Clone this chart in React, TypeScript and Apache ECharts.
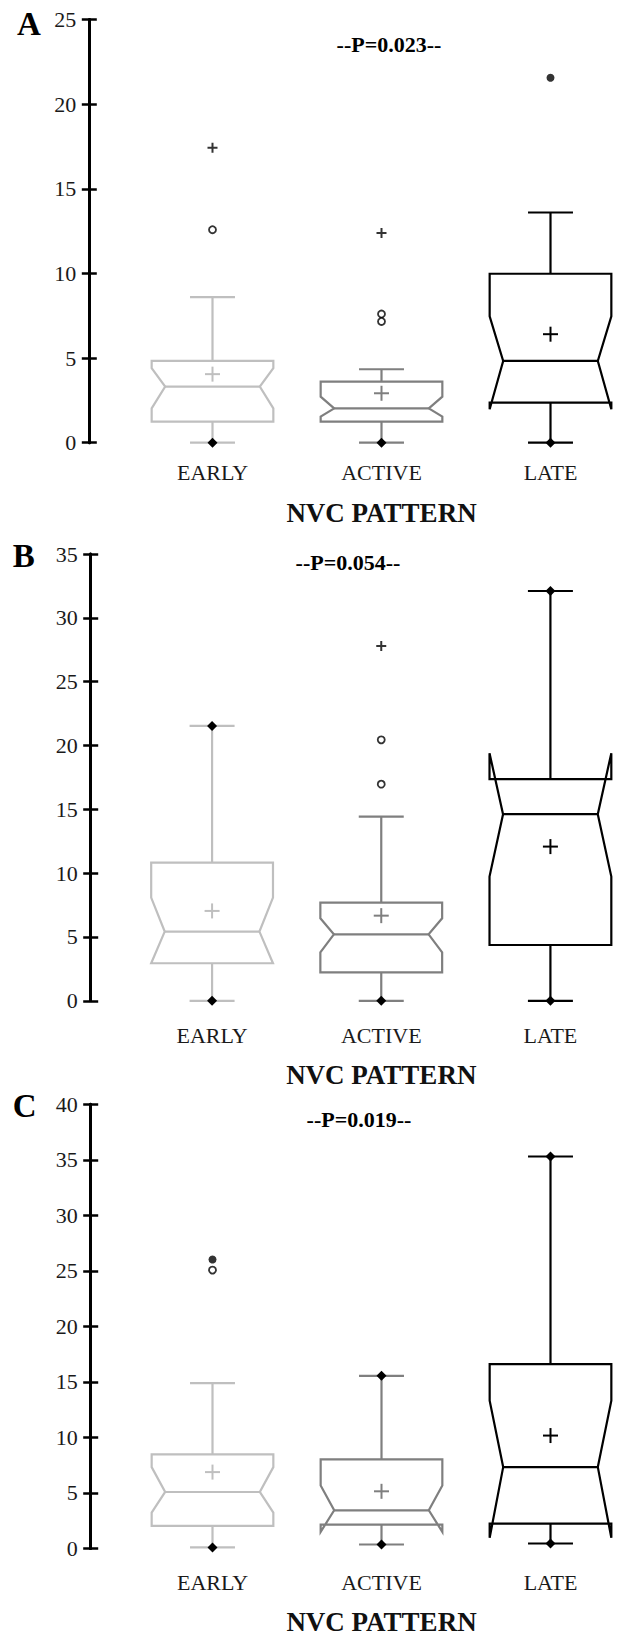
import React, { useEffect, useRef } from 'react';
import * as echarts from 'echarts';

const categories = ['EARLY', 'ACTIVE', 'LATE'];
const panelLetters = ['A', 'B', 'C'];
const pValues = ['--P=0.023--', '--P=0.054--', '--P=0.019--'];
const axisTitle = 'NVC PATTERN';

// Panel A
const aTicks = [0, 5, 10, 15, 20, 25];
const aLow = [0, 0, 0];
const aQ1 = [1.24, 1.24, 2.37];
const aMedian = [3.31, 2.03, 4.83];
const aQ3 = [4.83, 3.61, 9.98];
const aHigh = [8.6, 4.34, 13.6];
const aNotchLow = [2.03, 1.54, 1.98];
const aNotchHigh = [4.4, 2.72, 7.46];
const aMean = [4.05, 2.92, 6.41];
const aLowMarked = [1, 1, 1];
const aHighMarked = [0, 0, 0];
const aPlus = [['EARLY', 17.42], ['ACTIVE', 12.39]];
const aOpen = [['EARLY', 12.58], ['ACTIVE', 7.6], ['ACTIVE', 7.16]];
const aDot = [['LATE', 21.56]];

// Panel B
const bTicks = [0, 5, 10, 15, 20, 25, 30, 35];
const bLow = [0, 0, 0];
const bQ1 = [2.94, 2.23, 4.37];
const bMedian = [5.42, 5.21, 14.62];
const bQ3 = [10.82, 7.69, 17.36];
const bHigh = [21.53, 14.43, 32.1];
const bNotchLow = [2.94, 3.8, 9.73];
const bNotchHigh = [8.08, 6.46, 19.4];
const bMean = [7.04, 6.67, 12.08];
const bLowMarked = [1, 1, 1];
const bHighMarked = [1, 0, 1];
const bPlus = [['ACTIVE', 27.8]];
const bOpen = [['ACTIVE', 20.44], ['ACTIVE', 16.97]];
const bDot: any[] = [];

// Panel C
const cTicks = [0, 5, 10, 15, 20, 25, 30, 35, 40];
const cLow = [0.1, 0.36, 0.45];
const cQ1 = [2.03, 2.15, 2.24];
const cMedian = [5.09, 3.44, 7.33];
const cQ3 = [8.47, 8.02, 16.6];
const cHigh = [14.9, 15.55, 35.3];
const cNotchLow = [3.23, 1.5, 0.96];
const cNotchHigh = [7.33, 5.68, 13.31];
const cMean = [6.88, 5.15, 10.17];
const cLowMarked = [1, 1, 1];
const cHighMarked = [0, 1, 1];
const cPlus: any[] = [];
const cOpen = [['EARLY', 25.07]];
const cDot = [['EARLY', 26.03]];

const panels = [
  { ticks: aTicks, low: aLow, q1: aQ1, med: aMedian, q3: aQ3, high: aHigh, nl: aNotchLow, nh: aNotchHigh, mean: aMean, lm: aLowMarked, hm: aHighMarked, plus: aPlus, open: aOpen, dot: aDot },
  { ticks: bTicks, low: bLow, q1: bQ1, med: bMedian, q3: bQ3, high: bHigh, nl: bNotchLow, nh: bNotchHigh, mean: bMean, lm: bLowMarked, hm: bHighMarked, plus: bPlus, open: bOpen, dot: bDot },
  { ticks: cTicks, low: cLow, q1: cQ1, med: cMedian, q3: cQ3, high: cHigh, nl: cNotchLow, nh: cNotchHigh, mean: cMean, lm: cLowMarked, hm: cHighMarked, plus: cPlus, open: cOpen, dot: cDot },
];

// layout (pixels)
const layouts = [
  { top: 19.5, height: 423.2, left: 128, width: 522, axisX: 89.3, labelGap: 29.3, nameGap: 70, letterX: 17, letterY: 23.5, pX: 389, pY: 44 },
  { top: 554, height: 446.8, left: 127.5, width: 528, axisX: 90.7, labelGap: 34.5, nameGap: 74, letterX: 12.7, letterY: 556, pX: 348, pY: 562 },
  { top: 1104.3, height: 445.7, left: 128, width: 528, axisX: 90.7, labelGap: 34.2, nameGap: 73, letterX: 12.7, letterY: 1106, pX: 359, pY: 1119.5 },
];

const boxColors = ['#bfbfbf', '#7f7f7f', '#000000'];
const SERIF = '"Liberation Serif", "Times New Roman", serif';

const renderBox = (params: any, api: any) => {
  const idx = api.value(0);
  const col = boxColors[idx];
  const band = api.size([1, 0])[0];
  const hw = band * 0.36;
  const cap = band * 0.133;
  const ind = band * 0.08;
  const Y = (v: number) => api.coord([idx, v])[1];
  const cx = api.coord([idx, api.value(3)])[0];
  const yLow = Y(api.value(1));
  const yQ1 = Y(api.value(2));
  const yMed = Y(api.value(3));
  const yQ3 = Y(api.value(4));
  const yHigh = Y(api.value(5));
  const yNL = Y(api.value(6));
  const yNH = Y(api.value(7));
  const yMean = Y(api.value(8));
  const lowMarked = api.value(9);
  const highMarked = api.value(10);
  const L = cx - hw;
  const R = cx + hw;
  const st = { stroke: col, lineWidth: 2.2, fill: null };
  const line = (x1: number, y1: number, x2: number, y2: number, s: any = st) => ({
    type: 'line',
    shape: { x1, y1, x2, y2 },
    style: s,
  });
  const diamond = (y: number) => ({
    type: 'polygon',
    shape: { points: [[cx, y - 5], [cx + 5, y], [cx, y + 5], [cx - 5, y]] },
    style: { fill: '#000', stroke: null },
  });
  const children: any[] = [
    line(cx, yQ3, cx, yHigh),
    line(cx - cap, yHigh, cx + cap, yHigh),
    line(cx, yQ1, cx, yLow),
    line(cx - cap, yLow, cx + cap, yLow),
    {
      type: 'polygon',
      shape: {
        points: [
          [L, yQ3], [L, yNH], [L + ind, yMed], [L, yNL], [L, yQ1],
          [R, yQ1], [R, yNL], [R - ind, yMed], [R, yNH], [R, yQ3],
        ],
      },
      style: { stroke: col, lineWidth: 2.2, fill: null, lineJoin: 'miter' },
    },
    line(L + ind, yMed, R - ind, yMed),
    line(cx - 7.5, yMean, cx + 7.5, yMean, { stroke: col, lineWidth: 2 }),
    line(cx, yMean - 7.5, cx, yMean + 7.5, { stroke: col, lineWidth: 2 }),
  ];
  if (lowMarked) children.push(diamond(yLow));
  if (highMarked) children.push(diamond(yHigh));
  return { type: 'group', children };
};

export default function App() {
  const ref = useRef<HTMLDivElement>(null);
  useEffect(() => {
    if (!ref.current) return;
    const chart = echarts.init(ref.current, null, { renderer: 'svg' });
    const grid: any[] = [];
    const xAxis: any[] = [];
    const yAxis: any[] = [];
    const series: any[] = [];
    const graphic: any[] = [];
    panels.forEach((p, i) => {
      const lay = layouts[i];
      const min = p.ticks[0];
      const max = p.ticks[p.ticks.length - 1];
      const interval = p.ticks[1] - p.ticks[0];
      grid.push({ left: lay.left, top: lay.top, width: lay.width, height: lay.height, containLabel: false });
      xAxis.push({
        type: 'category',
        gridIndex: i,
        data: categories,
        axisLine: { show: false },
        axisTick: { show: false },
        axisLabel: {
          interval: 0,
          margin: lay.labelGap,
          verticalAlign: 'middle',
          fontFamily: SERIF,
          fontSize: 22,
          color: '#1a1a1a',
        },
        name: axisTitle,
        nameLocation: 'middle',
        nameGap: lay.nameGap,
        nameTextStyle: {
          fontFamily: SERIF,
          fontSize: 27,
          fontWeight: 'bold',
          color: '#111',
          verticalAlign: 'middle',
        },
        splitLine: { show: false },
      });
      const off = lay.left - lay.axisX;
      yAxis.push({
        type: 'value',
        gridIndex: i,
        position: 'left',
        offset: off,
        min,
        max,
        interval,
        axisLine: { show: true, lineStyle: { color: '#000', width: 3 } },
        axisTick: { show: true, length: 7.5, lineStyle: { color: '#000', width: 2.5 } },
        axisLabel: { margin: 13, fontFamily: SERIF, fontSize: 22, color: '#1a1a1a' },
        splitLine: { show: false },
      });
      yAxis.push({
        type: 'value',
        gridIndex: i,
        position: 'left',
        offset: off,
        min,
        max,
        interval,
        axisLine: { show: true, lineStyle: { color: '#000', width: 3 } },
        axisTick: { show: true, inside: true, length: 7.5, lineStyle: { color: '#000', width: 2.5 } },
        axisLabel: { show: false },
        splitLine: { show: false },
      });
      const rows = categories.map((_, k) => [
        k, p.low[k], p.q1[k], p.med[k], p.q3[k], p.high[k], p.nl[k], p.nh[k], p.mean[k], p.lm[k], p.hm[k],
      ]);
      series.push({
        type: 'custom',
        xAxisIndex: i,
        yAxisIndex: 2 * i,
        renderItem: renderBox,
        encode: { x: 0, y: [1, 2, 3, 4, 5, 6, 7, 8] },
        data: rows,
        silent: true,
      });
      series.push({
        type: 'scatter',
        xAxisIndex: i,
        yAxisIndex: 2 * i,
        symbol: 'path://M0,5L10,5M5,0L5,10',
        symbolSize: 10,
        itemStyle: { color: 'rgba(0,0,0,0)', borderColor: '#000', borderWidth: 2 },
        data: p.plus,
        silent: true,
      });
      series.push({
        type: 'scatter',
        xAxisIndex: i,
        yAxisIndex: 2 * i,
        symbol: 'circle',
        symbolSize: 7,
        itemStyle: { color: '#fff', borderColor: '#000', borderWidth: 1.8 },
        data: p.open,
        silent: true,
      });
      series.push({
        type: 'scatter',
        xAxisIndex: i,
        yAxisIndex: 2 * i,
        symbol: 'circle',
        symbolSize: 8,
        itemStyle: { color: '#000' },
        data: p.dot,
        silent: true,
      });
      graphic.push({
        type: 'text',
        x: lay.letterX,
        y: lay.letterY,
        style: {
          text: panelLetters[i],
          font: 'bold 33px ' + SERIF,
          fill: '#000',
          align: 'left',
          verticalAlign: 'middle',
          textAlign: 'left',
          textVerticalAlign: 'middle',
        },
      });
      graphic.push({
        type: 'text',
        x: lay.pX,
        y: lay.pY,
        style: {
          text: pValues[i],
          font: 'bold 22px ' + SERIF,
          fill: '#000',
          align: 'center',
          verticalAlign: 'middle',
          textAlign: 'center',
          textVerticalAlign: 'middle',
        },
      });
    });
    chart.setOption({
      animation: false,
      backgroundColor: '#fff',
      grid,
      xAxis,
      yAxis,
      series,
      graphic,
    });
    return () => chart.dispose();
  }, []);
  return (
    <div
      ref={ref}
      style={{ position: 'absolute', left: 0, top: 0, width: 635, height: 1636 }}
    />
  );
}
